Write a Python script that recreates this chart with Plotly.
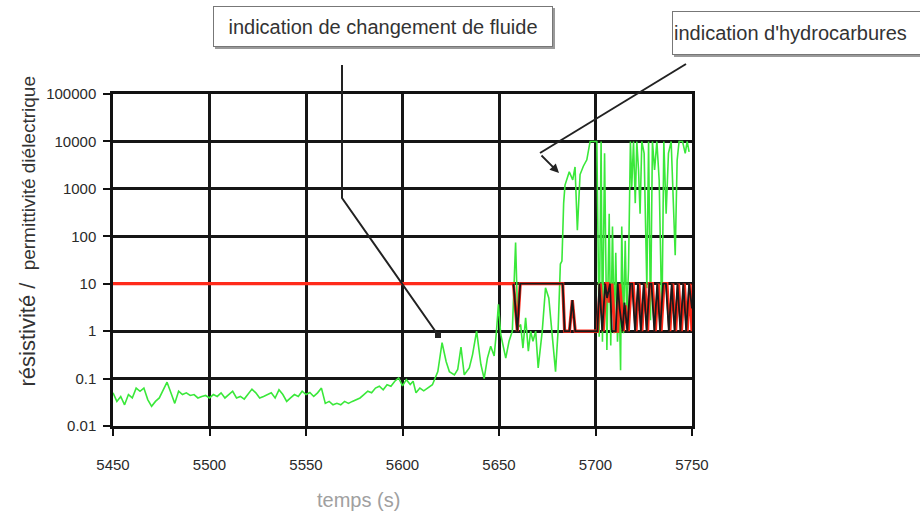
import plotly.graph_objects as go

# ---------------- data ----------------
green_t = [
    5450, 5452, 5454, 5456, 5458, 5460, 5462, 5464, 5466, 5468,
    5470, 5472, 5474, 5476, 5478, 5480, 5482, 5484, 5486, 5488,
    5490, 5492, 5494, 5496, 5498, 5500, 5502, 5504, 5506, 5508,
    5510, 5512, 5514, 5516, 5518, 5520, 5522, 5524, 5526, 5528,
    5530, 5532, 5534, 5536, 5538, 5540, 5542, 5544, 5546, 5548,
    5550, 5552, 5554, 5556, 5558, 5560, 5562, 5564, 5566, 5568,
    5570, 5572, 5574, 5576, 5578, 5580, 5582, 5584, 5586, 5588,
    5590, 5592, 5594, 5596, 5598,
    5600, 5602, 5604, 5605.5, 5607, 5609, 5611, 5613, 5615.5, 5618.3,
    5620.5, 5622.6, 5624.3, 5626.9, 5628.6, 5630.3, 5632, 5634.6, 5636.3, 5638.4,
    5640.6, 5642.3, 5644, 5645.7, 5647.5, 5648.7, 5649.7, 5650.9, 5652.6, 5653.5,
    5655.2, 5656.9, 5658.6, 5659.8, 5661.2, 5662.4, 5663.8, 5665.2, 5666.4, 5667.6,
    5669, 5670.3, 5672.4, 5674.1, 5675.8, 5677.5, 5679.3, 5680.6, 5681.8, 5682.6,
    5683.5, 5684.2, 5685.1, 5686.4, 5688.2, 5689.4, 5690.6, 5692, 5693.7, 5695.5,
    5697.2, 5699, 5700.7,
    5701.9, 5702.9, 5703.6, 5704.7, 5705.9, 5707.1, 5707.9, 5708.8, 5709.7, 5710.5,
    5711.4, 5712.3, 5713, 5713.6, 5714.5, 5715.4, 5716.2, 5717.1, 5718.1, 5718.8,
    5719.7, 5720.6, 5721.4, 5722.3, 5723.1, 5724, 5725.2, 5726.6, 5727.5, 5728.5,
    5729.5, 5730.6, 5731.8, 5733, 5734.4, 5735.4, 5736.6, 5737.8, 5739.2, 5741.3,
    5742.3, 5743.3, 5745.1, 5746.5, 5747.5, 5748.5,
]
green_v = [
    0.050, 0.033, 0.042, 0.028, 0.046, 0.039, 0.063, 0.054, 0.063, 0.036,
    0.026, 0.033, 0.039, 0.058, 0.084, 0.050, 0.030, 0.054, 0.046, 0.050,
    0.044, 0.046, 0.039, 0.042, 0.044, 0.039, 0.046, 0.042, 0.050, 0.039,
    0.046, 0.054, 0.039, 0.042, 0.037, 0.046, 0.060, 0.050, 0.039, 0.042,
    0.046, 0.050, 0.039, 0.058, 0.046, 0.033, 0.039, 0.046, 0.042, 0.054,
    0.046, 0.051, 0.042, 0.050, 0.063, 0.030, 0.033, 0.028, 0.030, 0.028,
    0.033, 0.030, 0.033, 0.036, 0.039, 0.046, 0.054, 0.050, 0.063, 0.069,
    0.058, 0.074, 0.069, 0.088, 0.103,
    0.070, 0.095, 0.075, 0.088, 0.050, 0.063, 0.055, 0.063, 0.074, 0.14,
    0.57, 0.23, 0.14, 0.12, 0.155, 0.46, 0.12, 0.168, 0.32, 1.0,
    0.20, 0.10, 0.27, 0.48, 0.30, 1.0, 3.7, 0.85, 0.38, 0.27,
    0.61, 1.0, 74, 1.18, 1.38, 0.44, 1.9, 0.38, 1.0, 0.61,
    1.0, 0.168, 1.0, 8.2, 5.0, 0.72, 0.14, 1.0, 26, 30,
    500, 1200, 1550, 2300, 1550, 2900, 135, 2000, 3000, 4100,
    10000, 10000, 10000,
    0.76, 10000, 0.6, 5600, 0.4, 300, 0.5, 160, 0.9, 45,
    0.6, 5, 0.15, 160, 0.9, 80, 2, 20, 10000, 1100,
    10000, 500, 10000, 2500, 300, 10000, 5600, 8, 10000, 1.7,
    10000, 2500, 10000, 1500, 1.5, 10000, 300, 5600, 10000, 40,
    4000, 10000, 10000, 5600, 10000, 6000,
]

red_t = [5450, 5657.5, 5659.5, 5661, 5683, 5684, 5686.5, 5688, 5689.5, 5701,
         5702.5, 5704, 5705.5, 5706.3, 5707, 5708.5, 5710, 5711.5, 5712.5, 5713.5,
         5714.5, 5715.5, 5717, 5718.5, 5719.5, 5721, 5722.5, 5724, 5725.5, 5727,
         5728, 5729.5, 5731, 5732.5, 5734, 5735.5, 5737, 5738.5, 5740, 5741.5,
         5743, 5744.5, 5746, 5747.5, 5749, 5750]
red_v = [10, 10, 1, 10, 10, 1, 1, 4.5, 1, 1,
         10, 1, 10, 10, 4, 10, 1, 1, 10, 2.5,
         1, 3.5, 1, 10, 10, 1, 10, 1, 10, 1,
         10, 10, 1, 10, 1, 10, 10, 1, 10, 1,
         10, 1, 10, 1, 10, 1]

black_t = [5657.5, 5659.5, 5661, 5683, 5684, 5686.5, 5688, 5689.5, 5701, 5702,
           5703.5, 5705, 5706, 5707.5, 5708.5, 5710.5, 5711.5, 5712.5, 5714, 5715,
           5716.5, 5718, 5719, 5720.5, 5722, 5723.5, 5725, 5726.5, 5728, 5729,
           5730.5, 5732, 5733.5, 5735, 5736.5, 5738, 5739.5, 5741, 5742.5, 5744,
           5745.5, 5747, 5748.5, 5750]
black_v = [10, 1, 10, 10, 1, 1, 4.5, 1, 1, 10,
           1, 10, 5, 10, 1, 1, 10, 3, 1, 4,
           1, 10, 10, 1, 10, 1, 10, 1, 10, 10,
           1, 10, 1, 10, 10, 1, 10, 1, 10, 1,
           10, 1, 10, 3]

x_ticks = [5450, 5500, 5550, 5600, 5650, 5700, 5750]
y_ticks = [0.01, 0.1, 1, 10, 100, 1000, 10000, 100000]
y_ticktext = ["0.01", "0.1", "1", "10", "100", "1000", "10000", "100000"]

assert len(green_t) == len(green_v)
assert len(red_t) == len(red_v)
assert len(black_t) == len(black_v)

# ---------------- layout geometry ----------------
W, H = 920, 513
L, R, T, B = 113, 228, 94, 87
PW, PH = W - L - R, H - T - B


def px(x):
    return (x - L) / PW


def py(y):
    return (H - B - y) / PH


FONT = "Liberation Sans, Arial, sans-serif"

fig = go.Figure()
fig.add_trace(go.Scatter(x=green_t, y=green_v, mode="lines",
                         line=dict(color="#3ae83a", width=1.6), showlegend=False))
fig.add_trace(go.Scatter(x=red_t, y=red_v, mode="lines",
                         line=dict(color="#ff2a1a", width=3.2), showlegend=False))
fig.add_trace(go.Scatter(x=black_t, y=black_v, mode="lines",
                         line=dict(color="#1a1a1a", width=1.8), showlegend=False))

axis_common = dict(showline=True, mirror=True, linecolor="#111", linewidth=2.5,
                   showgrid=True, gridcolor="#161616", gridwidth=2.5,
                   ticks="outside", ticklen=7, tickwidth=2, tickcolor="#111",
                   zeroline=False, tickfont=dict(family=FONT, size=15, color="#2a2a2a"))

fig.update_xaxes(range=[5450, 5750], tickvals=x_ticks, ticklabelstandoff=16, **axis_common)
fig.update_yaxes(type="log", range=[-2, 5], tickvals=y_ticks, ticktext=y_ticktext,
                 ticklabelstandoff=4, **axis_common)

shapes = [
    # thin shadow of boxes
    dict(type="rect", xref="paper", yref="paper", x0=px(215), x1=px(555), y0=py(49), y1=py(8),
         fillcolor="#9a9a9a", line=dict(width=0), layer="above"),
    dict(type="rect", xref="paper", yref="paper", x0=px(674), x1=px(930), y0=py(57), y1=py(14),
         fillcolor="#9a9a9a", line=dict(width=0), layer="above"),
    # callout line 1
    dict(type="path", xref="paper", yref="paper",
         path=f"M {px(342)},{py(65)} L {px(342)},{py(198)} L {px(438)},{py(335)}",
         line=dict(color="#222", width=2), layer="above"),
    dict(type="rect", xref="paper", yref="paper", x0=px(435), x1=px(441), y0=py(338), y1=py(332),
         fillcolor="#222", line=dict(width=0), layer="above"),
    # callout line 2
    dict(type="path", xref="paper", yref="paper",
         path=f"M {px(686)},{py(64)} L {px(540)},{py(153)}",
         line=dict(color="#222", width=2), layer="above"),
]

annotations = [
    dict(xref="paper", yref="paper", x=px(559), y=py(173), ax=-19, ay=-19,
         showarrow=True, arrowhead=2, arrowsize=1, arrowwidth=1.8, arrowcolor="#222", text=""),
    dict(xref="paper", yref="paper", x=px(383), y=py(26.5), xanchor="center", yanchor="middle",
         text="indication de changement de fluide", showarrow=False,
         font=dict(family=FONT, size=20, color="#333"),
         bgcolor="white", bordercolor="#777", borderwidth=1, borderpad=1,
         width=336, height=37),
    dict(xref="paper", yref="paper", x=px(672), y=py(33.5), xanchor="left", yanchor="middle",
         text="indication d'hydrocarbures", showarrow=False, align="left",
         font=dict(family=FONT, size=20, color="#333"),
         bgcolor="white", bordercolor="#777", borderwidth=1, borderpad=1,
         width=260, height=40),
    dict(xref="paper", yref="paper", x=px(27), y=py(231.5), xanchor="center", yanchor="middle",
         textangle=-90, showarrow=False,
         text="résistivité /  <span style='font-size:19px'>permittivité diélectrique</span>",
         font=dict(family=FONT, size=22, color="#333")),
    dict(xref="paper", yref="paper", x=px(358), y=py(487), xanchor="center", yanchor="top",
         showarrow=False, text="temps (s)",
         font=dict(family=FONT, size=20, color="#a0a0a0")),
]

fig.update_layout(width=W, height=H, margin=dict(l=L, r=R, t=T, b=B, autoexpand=False),
                  paper_bgcolor="white", plot_bgcolor="white",
                  shapes=shapes, annotations=annotations, showlegend=False)

fig.write_html("out.html")
